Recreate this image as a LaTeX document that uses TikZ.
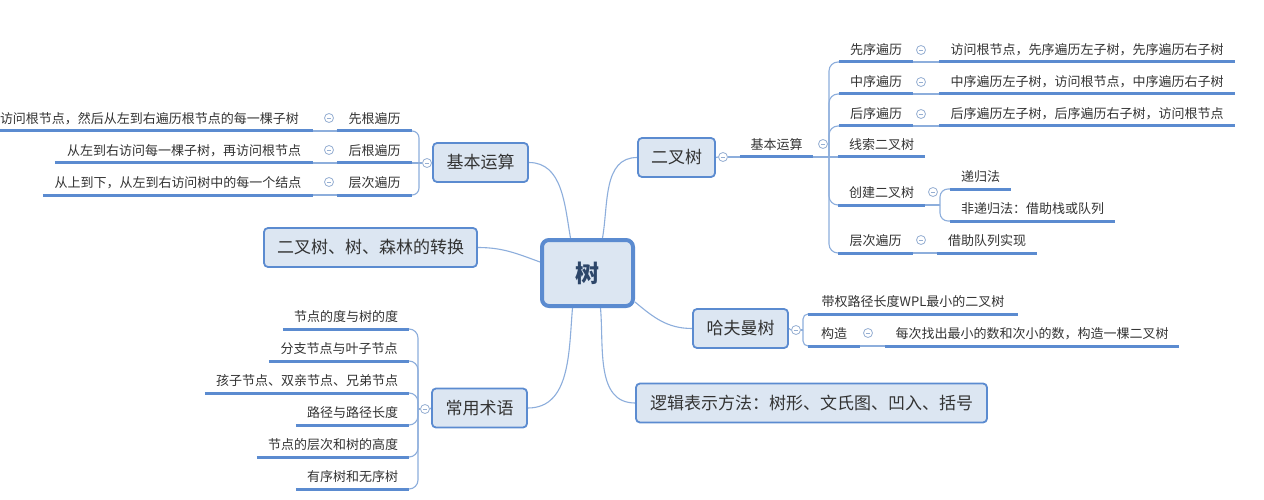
\documentclass[tikz,border=0pt]{standalone}
\usepackage{fontspec}
\setmainfont{Noto Sans CJK SC}
\usetikzlibrary{calc}
\definecolor{bfill}{RGB}{220,230,242}
\definecolor{bord}{RGB}{91,139,208}
\definecolor{conncol}{RGB}{141,174,220}
\definecolor{ulcol}{RGB}{91,139,208}
\definecolor{txt}{RGB}{51,51,51}
\definecolor{mcol}{RGB}{150,175,210}
\definecolor{roottxt}{RGB}{45,70,105}
\newcommand\tfs[1]{\fontsize{#1}{#1}\selectfont}
\pgfdeclarelayer{back}
\pgfdeclarelayer{bg}
\pgfsetlayers{back,bg,main}
\begin{document}
\begin{tikzpicture}[x=1pt,y=-1pt,
 box/.style={draw=bord, fill=bfill, line width=1.8pt, rounded corners=4pt, font=\tfs{17}, text=txt, inner sep=0pt, minimum height=39pt},
 topic/.style={anchor=south, inner xsep=0pt, inner ysep=0pt, text height=10pt, text depth=7.5pt, font=\tfs{13}, text=txt},
 ul/.style={draw=ulcol, line width=3pt},
 conn/.style={draw=conncol, line width=1.1pt},
 fold/.style={circle, draw=mcol, line width=0.8pt, fill=white, minimum size=9pt, inner sep=0pt,
   path picture={\draw[mcol, line width=0.8pt] ([xshift=-2.2pt]path picture bounding box.center) -- ([xshift=2.2pt]path picture bounding box.center);}},
]
\begin{pgfonlayer}{back}
\fill[white] (0,0) rectangle (1264,500);
\end{pgfonlayer}
\useasboundingbox (0,0) rectangle (1264,500);

% boxes
\node[box, line width=4pt, rounded corners=7pt, minimum width=91pt, minimum height=66pt, font=\tfs{24}\bfseries, text=roottxt] (shu) at (587.5,273) {树};
\node[box, minimum width=77pt] (ercha) at (676.5,157.5) {二叉树};
\node[box, minimum width=95pt] (kb1) at (480.5,162.5) {基本运算};
\node[box, minimum width=213pt] (zh) at (370.5,247.5) {二叉树、树、森林的转换};
\node[box, minimum width=95pt] (cy) at (479.5,408) {常用术语};
\node[box, minimum width=95pt] (hf) at (740.5,328.5) {哈夫曼树};
\node[box, minimum width=351pt] (lj) at (811.5,403) {逻辑表示方法：树形、文氏图、凹入、括号};

% right: 二叉树 branch
\node[topic, minimum width=73pt] (kb2) at (776.5,157) {基本运算};
\node[topic, minimum width=74pt] (xx) at (876,62) {先序遍历};
\node[topic, minimum width=296pt] (xxd) at (1087,62) {访问根节点，先序遍历左子树，先序遍历右子树};
\node[topic, minimum width=74pt] (zx) at (876,94) {中序遍历};
\node[topic, minimum width=296pt] (zxd) at (1087,94) {中序遍历左子树，访问根节点，中序遍历右子树};
\node[topic, minimum width=74pt] (hx) at (876,126) {后序遍历};
\node[topic, minimum width=296pt] (hxd) at (1087,126) {后序遍历左子树，后序遍历右子树，访问根节点};
\node[topic, minimum width=87pt] (xs) at (881.5,157) {线索二叉树};
\node[topic, minimum width=87pt] (cj) at (881.5,205) {创建二叉树};
\node[topic, minimum width=61pt] (dg) at (980.5,189) {递归法};
\node[topic, minimum width=165pt] (fdg) at (1032.5,221) {非递归法：借助栈或队列};
\node[topic, minimum width=75pt] (cc) at (875.5,253) {层次遍历};
\node[topic, minimum width=100pt] (ccd) at (987,253) {借助队列实现};

% 哈夫曼树 branch
\node[topic, minimum width=210pt] (dq) at (913,314) {带权路径长度WPL最小的二叉树};
\node[topic, minimum width=52pt] (gz) at (834,346) {构造};
\node[topic, minimum width=294pt] (gzd) at (1032,346) {每次找出最小的数和次小的数，构造一棵二叉树};

% left 基本运算 branch
\node[topic, minimum width=75pt] (xg) at (374.5,131) {先根遍历};
\node[topic, minimum width=327pt] (xgd) at (149.5,131) {访问根节点，然后从左到右遍历根节点的每一棵子树};
\node[topic, minimum width=75pt] (hg) at (374.5,163) {后根遍历};
\node[topic, minimum width=258pt] (hgd) at (184,163) {从左到右访问每一棵子树，再访问根节点};
\node[topic, minimum width=75pt] (cg) at (374.5,195) {层次遍历};
\node[topic, minimum width=270pt] (cgd) at (178,195) {从上到下，从左到右访问树中的每一个结点};

% 常用术语 branch
\node[topic, minimum width=126pt] (t1) at (346,329) {节点的度与树的度};
\node[topic, minimum width=140pt] (t2) at (339,361) {分支节点与叶子节点};
\node[topic, minimum width=204pt] (t3) at (307,393) {孩子节点、双亲节点、兄弟节点};
\node[topic, minimum width=113pt] (t4) at (352.5,425) {路径与路径长度};
\node[topic, minimum width=152pt] (t5) at (333,457) {节点的层次和树的高度};
\node[topic, minimum width=113pt] (t6) at (352.5,489) {有序树和无序树};

% fold markers
\node[fold] (fercha) at (723,157) {};
\node[fold] (fkb2) at (823,144) {};
\node[fold] (fxx) at (921,50) {};
\node[fold] (fzx) at (921,82) {};
\node[fold] (fhx) at (921,114) {};
\node[fold] (fcj) at (933,192) {};
\node[fold] (fcc) at (921,240) {};
\node[fold] (fhf) at (796,330) {};
\node[fold] (fgz) at (868,333) {};
\node[fold] (fkb1) at (427,163) {};
\node[fold] (fxg) at (329,118) {};
\node[fold] (fhg) at (329,150) {};
\node[fold] (fcg) at (329,182) {};
\node[fold] (fcy) at (425,409) {};

% junctions
\coordinate (jk2) at (829,157);
\coordinate (jcj) at (940,205);
\coordinate (jhf) at (803,330);
\coordinate (jk1) at (419,163);
\coordinate (jcy) at (418,409);

\begin{pgfonlayer}{bg}
% main connectors
\draw[conn] (kb1.east) to[out=0,in=100] ([xshift=-17pt]shu.north);
\draw[conn] ([xshift=15pt]shu.north) to[out=80,in=180] (ercha.west);
\draw[conn] (zh.east) to[out=0,in=160] ([yshift=11pt]shu.west);
\draw[conn] ([xshift=-15pt]shu.south) to[out=-95,in=0] (cy.east);
\draw[conn] ([xshift=13pt]shu.south) to[out=-85,in=180] (lj.west);
\draw[conn] ([yshift=6pt]shu.south east) to[out=-40,in=180] (hf.west);

% 二叉树 branch
\draw[conn] (ercha.east) -- (fercha.west);
\draw[conn] (fercha.east) -- (kb2.south west);
\draw[conn] (kb2.south east) -- (jk2);
\foreach \c in {xx,zx,hx,cj,cc} \draw[conn, rounded corners=9pt] (jk2) |- (\c.south west);
\draw[conn] (jk2) -- (xs.south west);
\foreach \a/\b in {xx/xxd,zx/zxd,hx/hxd,cc/ccd,gz/gzd} \draw[conn] (\a.south east) -- (\b.south west);
\draw[conn] (cj.south east) -- (jcj);
\foreach \c in {dg,fdg} \draw[conn, rounded corners=8pt] (jcj) |- (\c.south west);

% 哈夫曼树 branch
\draw[conn] (hf.east) -- (fhf.west);
\draw[conn] (fhf.east) -- (jhf);
\foreach \c in {dq,gz} \draw[conn, rounded corners=5pt] (jhf) |- (\c.south west);

% left 基本运算 branch
\draw[conn] (kb1.west) -- (fkb1.east);
\draw[conn] (fkb1.west) -- (jk1);
\foreach \c in {xg,cg} \draw[conn, rounded corners=7pt] (jk1) |- (\c.south east);
\draw[conn] (jk1) -- (hg.south east);
\foreach \a/\b in {xg/xgd,hg/hgd,cg/cgd} \draw[conn] (\a.south west) -- (\b.south east);

% 常用术语 branch
\draw[conn] (cy.west) -- (fcy.east);
\draw[conn] (fcy.west) -- (jcy);
\foreach \c in {t1,t2,t3,t4,t5,t6} \draw[conn, rounded corners=9pt] (jcy) |- (\c.south east);
\end{pgfonlayer}

% underlines
\foreach \n in {kb2,xx,xxd,zx,zxd,hx,hxd,xs,cj,dg,fdg,cc,ccd,dq,gz,gzd,xg,xgd,hg,hgd,cg,cgd,t1,t2,t3,t4,t5,t6}
  \draw[ul] (\n.south west) -- (\n.south east);
\end{tikzpicture}
\end{document}
